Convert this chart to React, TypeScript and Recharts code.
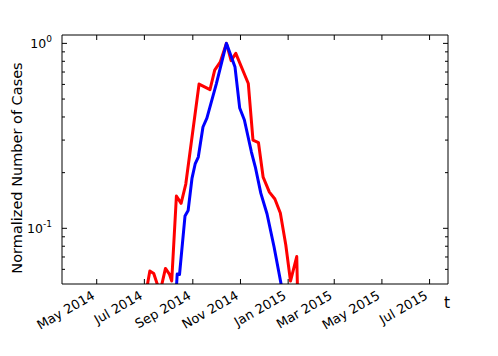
import { LineChart, Line, XAxis, YAxis } from 'recharts';

// red series
const redDates = [
  '2014-07-01', '2014-07-08', '2014-07-13', '2014-07-21', '2014-07-28', '2014-08-02',
  '2014-08-05', '2014-08-11', '2014-08-17', '2014-08-23', '2014-09-09', '2014-09-23',
  '2014-09-29', '2014-10-06', '2014-10-14', '2014-10-20', '2014-10-26', '2014-11-11',
  '2014-11-17', '2014-11-24', '2014-11-30', '2014-12-08', '2014-12-15', '2014-12-22',
  '2014-12-29', '2015-01-04', '2015-01-12', '2015-01-14',
];
const redValues = [
  0.04, 0.0588, 0.057, 0.045, 0.0607, 0.0566,
  0.0519, 0.1495, 0.1365, 0.1735, 0.6026, 0.5625,
  0.717, 0.792, 1.0, 0.807, 0.883, 0.607,
  0.3, 0.291, 0.189, 0.157, 0.144, 0.121,
  0.0812, 0.0519, 0.0704, 0.03,
];

// blue series
const blueDates = [
  '2014-08-10', '2014-08-12', '2014-08-15', '2014-08-22', '2014-08-26', '2014-08-31',
  '2014-09-04', '2014-09-08', '2014-09-14', '2014-09-19', '2014-10-01', '2014-10-14',
  '2014-10-25', '2014-10-31', '2014-11-06', '2014-11-15', '2014-11-20', '2014-11-27',
  '2014-12-05', '2014-12-14', '2014-12-25',
];
const blueValues = [
  0.04, 0.0566, 0.0563, 0.1165, 0.1248, 0.187,
  0.2228, 0.2428, 0.353, 0.3945, 0.6026, 1.0,
  0.7447, 0.447, 0.385, 0.2585, 0.2145, 0.155,
  0.1195, 0.0792, 0.045,
];

const xDomainDates = ['2014-03-17T14:00:00Z', '2015-07-24T14:00:00Z'];
const xTickDates = [
  '2014-05-01', '2014-07-01', '2014-09-01', '2014-11-01',
  '2015-01-01', '2015-03-01', '2015-05-01', '2015-07-01',
];
const yDomain = [0.05, 1.11];
const yTicks = [0.06, 0.07, 0.08, 0.09, 0.1, 0.2, 0.3, 0.4, 0.5, 0.6, 0.7, 0.8, 0.9, 1];
const yMajor: Record<string, string> = { '1': '0', '0.1': '-1' };

const MONTHS = ['Jan', 'Feb', 'Mar', 'Apr', 'May', 'Jun', 'Jul', 'Aug', 'Sep', 'Oct', 'Nov', 'Dec'];
const FONT = '"DejaVu Sans", sans-serif';

const W = 498;
const H = 356;
const PLOT = { left: 62, right: 448, top: 35, bottom: 284 };

const toTime = (s: string) => new Date(s).getTime();

const redData = redDates.map((d, i) => ({ date: toTime(d), value: redValues[i] }));
const blueData = blueDates.map((d, i) => ({ date: toTime(d), value: blueValues[i] }));
const xDomain = xDomainDates.map(toTime);
const xTicks = xTickDates.map(toTime);

function XTick({ x, payload }: any) {
  const d = new Date(payload.value);
  const label = `${MONTHS[d.getUTCMonth()]} ${d.getUTCFullYear()}`;
  const ty = PLOT.bottom + 14;
  return (
    <g>
      <line x1={x} x2={x} y1={PLOT.bottom} y2={PLOT.bottom - 5} stroke="#000" />
      <line x1={x} x2={x} y1={PLOT.top} y2={PLOT.top + 5} stroke="#000" />
      <text
        x={x - 1}
        y={ty}
        textAnchor="end"
        transform={`rotate(-30, ${x - 1}, ${ty})`}
        fontSize={13}
        fontFamily={FONT}
        fill="#000"
      >
        {label}
      </text>
    </g>
  );
}

function YTick({ y, payload }: any) {
  const exp = yMajor[String(payload.value)];
  const len = exp !== undefined ? 5 : 3;
  return (
    <g>
      <line x1={PLOT.left} x2={PLOT.left + len} y1={y} y2={y} stroke="#000" />
      <line x1={PLOT.right - len} x2={PLOT.right} y1={y} y2={y} stroke="#000" />
      {exp !== undefined && (
        <text x={52} y={y + 5} textAnchor="end" fontSize={12.5} fontFamily={FONT} fill="#000">
          10
          <tspan dy={-6} fontSize={9}>
            {exp}
          </tspan>
        </text>
      )}
    </g>
  );
}

const Y_MID = 168;

const yLabel = () => (
  <text
    x={17}
    y={Y_MID}
    textAnchor="middle"
    dominantBaseline="central"
    transform={`rotate(-90, 17, ${Y_MID})`}
    fontSize={14.5}
    fontFamily={FONT}
    fill="#000"
  >
    Normalized Number of Cases
  </text>
);

const xLabel = () => (
  <text x={447} y={308} textAnchor="middle" fontSize={15.5} fontFamily={FONT} fill="#000">
    t
  </text>
);

export default function App() {
  return (
    <div style={{ position: 'absolute', left: 0, top: 0, width: W, height: H, background: '#fff' }}>
      <LineChart
        width={W}
        height={H}
        margin={{ top: PLOT.top - 1, right: W - PLOT.right - 1, bottom: 0, left: 0 }}
      >
        <XAxis
          dataKey="date"
          type="number"
          domain={xDomain}
          ticks={xTicks}
          interval={0}
          allowDataOverflow
          height={H - PLOT.bottom}
          tickSize={0}
          tickMargin={0}
          tickLine={false}
          axisLine={{ stroke: '#000' }}
          tick={<XTick />}
          label={xLabel}
        />
        <XAxis
          xAxisId="top"
          orientation="top"
          type="number"
          domain={xDomain}
          allowDataOverflow
          height={1}
          tick={false}
          tickLine={false}
          axisLine={{ stroke: '#000' }}
        />
        <YAxis
          dataKey="value"
          type="number"
          scale="log"
          domain={yDomain}
          ticks={yTicks}
          interval={0}
          allowDataOverflow
          width={PLOT.left}
          tickSize={0}
          tickMargin={0}
          tickLine={false}
          axisLine={{ stroke: '#000' }}
          tick={<YTick />}
          label={yLabel}
        />
        <YAxis
          yAxisId="right"
          orientation="right"
          type="number"
          domain={[0, 1]}
          width={1}
          tick={false}
          tickLine={false}
          axisLine={{ stroke: '#000' }}
        />
        <Line
          data={redData}
          dataKey="value"
          type="linear"
          stroke="#ff0000"
          strokeWidth={3}
          strokeLinejoin="round"
          dot={false}
          activeDot={false}
          isAnimationActive={false}
        />
        <Line
          data={blueData}
          dataKey="value"
          type="linear"
          stroke="#0000ff"
          strokeWidth={3}
          strokeLinejoin="round"
          dot={false}
          activeDot={false}
          isAnimationActive={false}
        />
      </LineChart>
    </div>
  );
}
